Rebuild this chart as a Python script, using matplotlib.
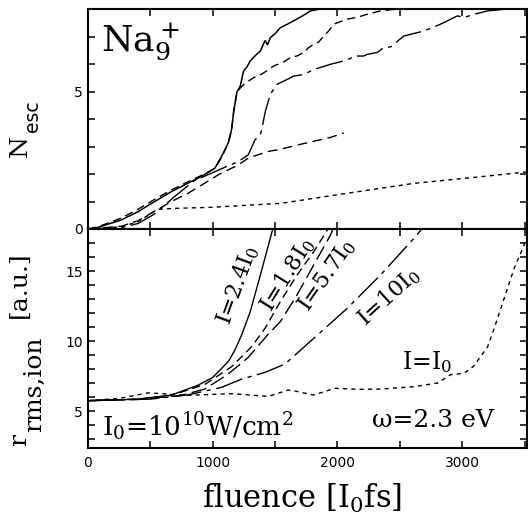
import matplotlib
matplotlib.use("Agg")
import matplotlib.pyplot as plt
from matplotlib.ticker import MultipleLocator, FixedLocator

plt.rcParams['mathtext.fontset'] = 'dejavuserif'

# ---------------- data: top panel (N_esc vs fluence) ----------------
xA = [0, 80, 268, 401, 535, 669, 803, 910, 1017, 1071, 1100, 1124, 1141, 1151, 1168, 1194,
      1221, 1247, 1275, 1301, 1340, 1381, 1420, 1440, 1462, 1500, 1542, 1600, 1649, 1720, 1783, 1863, 3520]
yA = [0, 0.06, 0.33, 0.63, 1.0, 1.36, 1.67, 1.91, 2.21, 2.64, 2.9, 3.13, 3.43, 3.61, 4.28, 4.98,
      5.2, 5.74, 5.9, 6.11, 6.3, 6.47, 6.85, 6.7, 6.96, 7.1, 7.32, 7.45, 7.57, 7.75, 7.93, 8.0, 8.0]

xB = [0, 80, 268, 401, 535, 669, 803, 910, 1017, 1071, 1100, 1124, 1141, 1151, 1168, 1194, 1221,
      1260, 1328, 1400, 1489, 1560, 1622, 1680, 1729, 1770, 1810, 1850, 1890, 1930, 1971, 2078,
      2160, 2239, 2346, 2479, 3520]
yB = [0, 0.08, 0.4, 0.72, 1.08, 1.42, 1.72, 1.95, 2.2, 2.6, 2.88, 3.1, 3.4, 3.58, 4.25, 4.95, 5.13,
      5.3, 5.5, 5.65, 5.93, 6.05, 6.23, 6.3, 6.42, 6.6, 6.72, 6.8, 7.02, 7.2, 7.45, 7.63,
      7.7, 7.81, 7.93, 8.0, 8.0]

xC = [0, 268, 401, 535, 700, 850, 1000, 1100, 1205, 1285, 1339, 1381, 1392, 1422, 1462, 1515,
      1580, 1649, 1730, 1810, 1917, 1944, 2051, 2104, 2131, 2211, 2239, 2319, 2372, 2426, 2533,
      2694, 2828, 2962, 3015, 3096, 3203, 3337, 3524]
yC = [0, 0.05, 0.2, 0.55, 1.2, 1.75, 2.05, 2.25, 2.45, 2.7, 3.24, 3.43, 3.6, 4.28, 4.9, 5.26,
      5.4, 5.56, 5.62, 5.8, 5.95, 5.99, 6.11, 6.2, 6.29, 6.29, 6.35, 6.42, 6.6, 6.62, 7.02,
      7.2, 7.45, 7.75, 7.69, 7.81, 7.93, 7.99, 8.0]

xD = [0, 268, 401, 535, 669, 803, 937, 1044, 1205, 1285, 1446, 1542, 1676, 1810, 1944, 2051]
yD = [0, 0.1, 0.3, 0.65, 1.0, 1.3, 1.67, 1.97, 2.33, 2.58, 2.82, 2.9, 3.05, 3.19, 3.33, 3.49]

xE = [0, 268, 401, 509, 549, 700, 1000, 1446, 1542, 2078, 2613, 3149, 3524]
yE = [0, 0.08, 0.27, 0.57, 0.71, 0.75, 0.79, 0.91, 0.93, 1.3, 1.66, 1.9, 2.08]

# ---------------- data: bottom panel (r_rms,ion vs fluence) ----------------
x24 = [0, 401, 669, 884, 1000, 1071, 1130, 1178, 1232, 1301, 1382, 1483]
y24 = [5.74, 5.85, 6.14, 6.85, 7.4, 8.04, 8.6, 9.36, 10.43, 12.1, 14.71, 18.05]

x18 = [0, 401, 669, 937, 1151, 1312, 1419, 1542, 1676, 1810, 1917, 1950]
y18 = [5.74, 5.85, 6.12, 6.9, 8.16, 9.6, 10.9, 12.81, 14.71, 16.38, 17.9, 18.5]

x57 = [0, 401, 739, 937, 1124, 1285, 1446, 1542, 1676, 1810, 1944, 1980]
y57 = [5.74, 5.83, 6.1, 6.57, 7.64, 8.83, 10.5, 11.38, 13.29, 15.43, 17.57, 18.3]

x10 = [0, 500, 800, 1071, 1232, 1419, 1580, 1810, 2078, 2345, 2613, 2667, 2700]
y10 = [5.74, 5.85, 6.15, 6.69, 7.28, 7.76, 8.36, 10.19, 12.33, 14.71, 17.33, 17.9, 18.4]

x1 = [0, 250, 482, 803, 1151, 1446, 1606, 1649, 1810, 1976, 2185, 2345, 2613, 2803, 2908,
      3015, 3092, 3205, 3253, 3310, 3417, 3497, 3550]
y1 = [5.74, 5.9, 6.3, 6.12, 6.24, 6.05, 6.5, 6.45, 6.14, 6.62, 6.55, 6.57, 6.74, 7.0, 7.6,
      7.69, 8.2, 9.6, 10.8, 12.33, 15.19, 16.86, 18.3]

xticks_major = [0, 1000, 2000, 3000]

# ---------------- figure ----------------
W, H = 528, 521
fig = plt.figure(figsize=(W / 100, H / 100), dpi=100)

def box(l, t, r, b):
    return [l / W, 1 - b / H, (r - l) / W, (b - t) / H]

ax1 = fig.add_axes(box(88, 9, 527, 229))
ax2 = fig.add_axes(box(88, 229, 527, 448))

LW = 1.0
sd = (0, (3, 3))          # short dash
md = (0, (6, 3.5))        # medium dash
ld = (0, (11, 4))         # long dash
dd = (0, (20, 4, 3, 4))   # dash-dot

ax1.plot(xA, yA, color='black', lw=1.1, ls='-')
ax1.plot(xB, yB, color='black', lw=LW, ls=md)
ax1.plot(xC, yC, color='black', lw=LW, ls=dd)
ax1.plot(xD, yD, color='black', lw=LW, ls=(0, (7, 4)))
ax1.plot(xE, yE, color='black', lw=LW, ls=sd)

ax2.plot(x24, y24, color='black', lw=LW, ls='-')
ax2.plot(x18, y18, color='black', lw=LW, ls=md)
ax2.plot(x57, y57, color='black', lw=LW, ls=ld)
ax2.plot(x10, y10, color='black', lw=LW, ls=dd)
ax2.plot(x1, y1, color='black', lw=LW, ls=sd)

for ax in (ax1, ax2):
    ax.set_xlim(0, 3520)
    ax.xaxis.set_major_locator(FixedLocator(xticks_major))
    ax.xaxis.set_minor_locator(MultipleLocator(500))
    ax.yaxis.set_minor_locator(MultipleLocator(1))
    ax.tick_params(which='both', direction='in', top=True, right=True,
                   length=5, width=1.1)
    ax.tick_params(labelsize=10)
    for s in ax.spines.values():
        s.set_linewidth(1.5)
    for lab in ax.get_xticklabels() + ax.get_yticklabels():
        lab.set_family('DejaVu Sans')

ax1.set_ylim(0, 8)
ax1.yaxis.set_major_locator(FixedLocator([0, 5]))
ax1.tick_params(labelbottom=False)

ax2.set_ylim(2.36, 18)
ax2.yaxis.set_major_locator(FixedLocator([5, 10, 15]))
ax2.tick_params(axis='x', pad=6)

SERIF = 'DejaVu Serif'

# panel title
ax1.text(0.03, 0.805, r'Na$_9^+$', transform=ax1.transAxes, fontsize=26,
         family=SERIF, ha='left', va='baseline')

# curve labels
ax2.text(1197, 14.0, r'I=2.4I$_0$', rotation=70, rotation_mode='anchor',
         ha='center', va='center', fontsize=16, family=SERIF)
ax2.text(1598, 14.7, r'I=1.8I$_0$', rotation=58, rotation_mode='anchor',
         ha='center', va='center', fontsize=16, family=SERIF)
ax2.text(1920, 14.7, r'I=5.7I$_0$', rotation=55, rotation_mode='anchor',
         ha='center', va='center', fontsize=16, family=SERIF)
ax2.text(2410, 13.14, r'I=10I$_0$', rotation=42, rotation_mode='anchor',
         ha='center', va='center', fontsize=16, family=SERIF)
ax2.text(2520, 8.0, r'I=I$_0$', ha='left', va='baseline', fontsize=17, family=SERIF)

def fpos(px, py):
    return px / W, 1 - py / H

fig.text(*fpos(102, 436), r'I$_0$=10$^{10}$W/cm$^2$', fontsize=19, family=SERIF,
         ha='left', va='baseline')
fig.text(*fpos(494, 427), 'ω=2.3 eV', fontsize=18, family=SERIF,
         ha='right', va='baseline')

# x label
fig.text(*fpos(302, 508), r'fluence [I$_0$fs]', fontsize=22, family=SERIF,
         ha='center', va='baseline')

# y labels (built from pieces)
def rtext(px, py, s, size, fam):
    fig.text(*fpos(px, py), s, rotation=90, rotation_mode='anchor', ha='left',
             va='baseline', fontsize=size, family=fam)

rtext(27, 157, 'N', 18, SERIF)
rtext(38, 132, 'esc', 13.5, 'DejaVu Sans')
rtext(26, 446, 'r', 18, SERIF)
rtext(41, 432, 'rms,ion', 18, SERIF)
rtext(26, 318, '[a.u.]', 18, SERIF)

fig.savefig('out.png', dpi=100)
